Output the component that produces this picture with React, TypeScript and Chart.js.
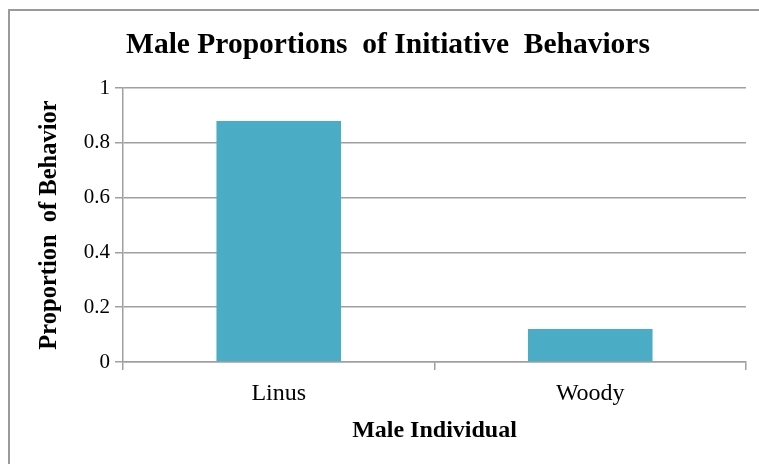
import React, { useEffect, useRef } from "react";
import { Chart, registerables } from "chart.js";

Chart.register(...registerables);

const categories = ["Linus", "Woody"];
const proportions = [0.88, 0.12];
const yTicks = [0, 0.2, 0.4, 0.6, 0.8, 1];
const chartTitle = "Male Proportions  of Initiative  Behaviors";
const yTitle = "Proportion  of Behavior";
const xTitle = "Male Individual";

const SERIF = "'Liberation Serif', 'Times New Roman', serif";
const GRID = "#a0a0a0";

const titlePlugin = {
  id: "customTitle",
  afterDraw(chart: any) {
    const ctx = chart.ctx;
    ctx.save();
    ctx.font = `bold 29.5px ${SERIF}`;
    ctx.fillStyle = "#000";
    ctx.textAlign = "center";
    ctx.textBaseline = "alphabetic";
    ctx.fillText(chartTitle, 388, 53);
    ctx.restore();
  },
};

export default function App() {
  const ref = useRef<HTMLCanvasElement | null>(null);

  useEffect(() => {
    if (!ref.current) return;
    const chart = new Chart(ref.current, {
      type: "bar",
      data: {
        labels: categories,
        datasets: [
          {
            data: proportions,
            backgroundColor: "#4bacc6",
            borderWidth: 0,
            categoryPercentage: 1,
            barPercentage: 0.4,
          },
        ],
      },
      plugins: [titlePlugin],
      options: {
        animation: false,
        responsive: true,
        maintainAspectRatio: false,
        layout: { padding: { left: 0, right: 13, top: 88, bottom: 0 } },
        plugins: {
          legend: { display: false },
          tooltip: { enabled: false },
          title: { display: false },
        },
        scales: {
          x: {
            type: "category",
            offset: true,
            afterFit: (s: any) => {
              s.height = 102;
            },
            grid: {
              offset: true,
              drawOnChartArea: false,
              drawTicks: true,
              tickLength: 8,
              color: GRID,
              lineWidth: 1.5,
            },
            border: { display: true, color: GRID, width: 1.5 },
            ticks: {
              color: "#000",
              padding: 9,
              font: { family: SERIF, size: 24 },
            },
            title: {
              display: true,
              text: xTitle,
              color: "#000",
              font: { family: SERIF, size: 24, weight: "bold", lineHeight: 1.2 },
              padding: { top: 0, bottom: 19 },
            },
          },
          y: {
            min: 0,
            max: 1,
            afterFit: (s: any) => {
              s.width = 123;
            },
            afterBuildTicks: (s: any) => {
              s.ticks = yTicks.map((v) => ({ value: v }));
            },
            ticks: {
              color: "#000",
              padding: 5,
              font: { family: SERIF, size: 21 },
              callback: (v: any) => String(Number(v)),
            },
            grid: {
              color: GRID,
              lineWidth: 1.5,
              tickLength: 8,
              drawTicks: true,
            },
            border: { display: true, color: GRID, width: 1.5 },
            title: {
              display: true,
              text: yTitle,
              color: "#000",
              font: { family: SERIF, size: 24.5, weight: "bold", lineHeight: 1.2 },
              padding: { top: 35, bottom: 0 },
            },
          },
        },
      },
    });
    return () => chart.destroy();
  }, []);

  return (
    <div
      style={{
        position: "fixed",
        left: 0,
        top: 0,
        width: 759,
        height: 464,
        overflow: "hidden",
        background: "#fff",
      }}
    >
      <div
        style={{
          position: "absolute",
          left: 8,
          top: 9,
          width: 800,
          height: 500,
          border: "2px solid #9a9a9a",
          boxSizing: "border-box",
        }}
      />
      <div style={{ position: "absolute", left: 0, top: 0, width: 759, height: 464 }}>
        <canvas ref={ref} />
      </div>
    </div>
  );
}
